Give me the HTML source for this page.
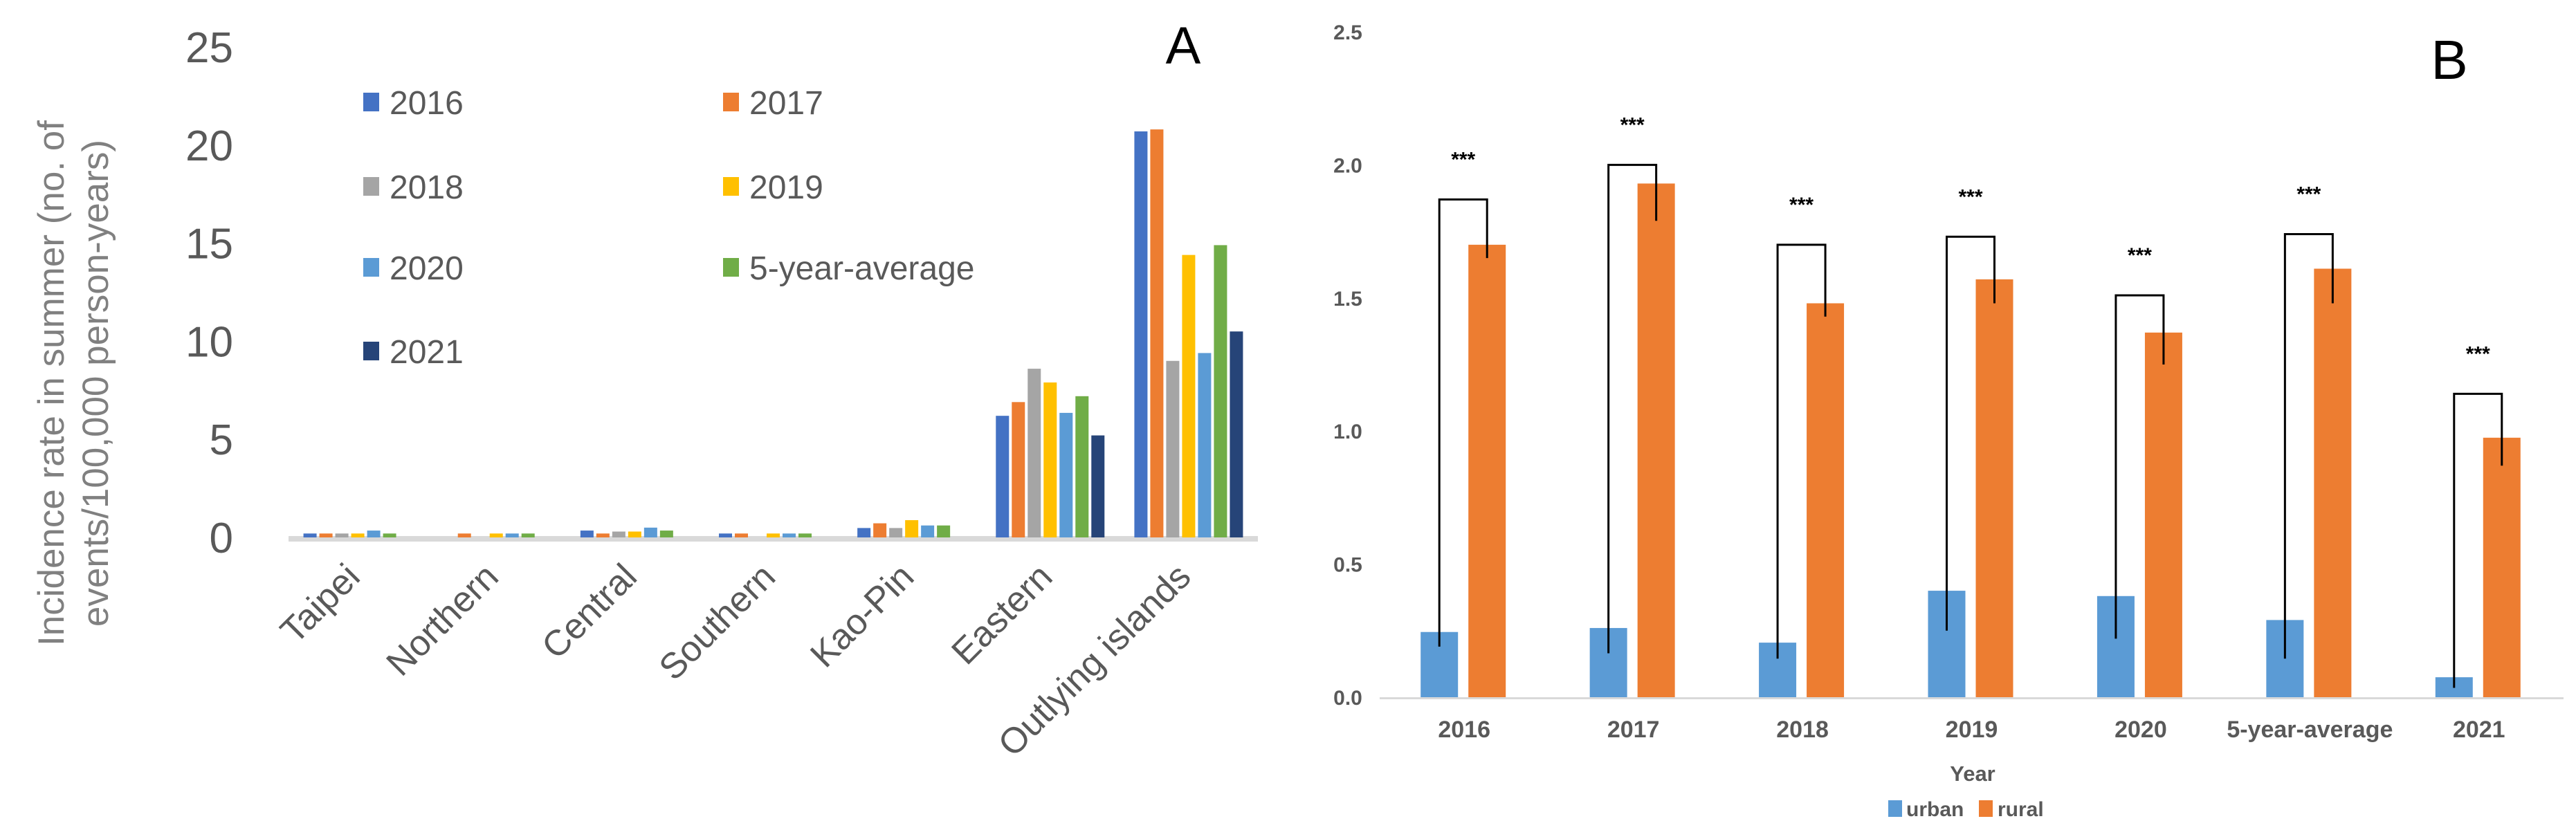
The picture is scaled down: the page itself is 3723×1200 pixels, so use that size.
<!DOCTYPE html>
<html><head><meta charset="utf-8"><style>
html,body{margin:0;padding:0;background:#fff;}
svg{display:block;font-family:"Liberation Sans",sans-serif;}
</style></head><body>
<svg id="chart" width="3723" height="1200" viewBox="0 0 3723 1200" xmlns="http://www.w3.org/2000/svg">
<g id="panelA"></g>
<g id="panelB"></g>
</svg>
<script>
// ---- Panel A data ----
const regions = ["Taipei","Northern","Central","Southern","Kao-Pin","Eastern","Outlying islands"];
const seriesA = ["2016","2017","2018","2019","2020","5-year-average","2021"];
const colorsA = ["#4472c4","#ed7d31","#a5a5a5","#ffc000","#5b9bd5","#70ad47","#264478"];
const v2016 = [0.2,0,0.35,0.2,0.48,6.2,20.7];
const v2017 = [0.2,0.2,0.2,0.2,0.72,6.9,20.8];
const v2018 = [0.2,0,0.3,0,0.48,8.6,9.0];
const v2019 = [0.2,0.2,0.3,0.2,0.88,7.9,14.4];
const v2020 = [0.35,0.2,0.5,0.2,0.61,6.35,9.4];
const vAvg = [0.2,0.2,0.35,0.2,0.61,7.2,14.9];
const v2021 = [0,0,0,0,0,5.2,10.5];
const ticksA = [0,5,10,15,20,25];
// ---- Panel B data ----
const years = ["2016","2017","2018","2019","2020","5-year-average","2021"];
const urban = [0.245,0.26,0.205,0.40,0.38,0.29,0.075];
const rural = [1.70,1.93,1.48,1.57,1.37,1.61,0.975];
const bracketTop = [1.87,2.0,1.70,1.73,1.51,1.74,1.14];
const urbanLow = [0.19,0.165,0.145,0.25,0.22,0.145,0.035];
const ruralLow = [1.65,1.79,1.43,1.48,1.25,1.48,0.87];
const sigLabels = ["***","***","***","***","***","***","***"];
const ticksB = [0.0,0.5,1.0,1.5,2.0,2.5];

const NS="http://www.w3.org/2000/svg";
function mk(parent,tag,attrs,text){const e=document.createElementNS(NS,tag);for(const k in attrs)e.setAttribute(k,attrs[k]);if(text!==undefined)e.textContent=text;parent.appendChild(e);return e;}

// ===== Panel A =====
const A=document.getElementById('panelA');
const ax0=417, ax1=1818, ay0=777, ayTop=68, aMax=25;
const yA=v=>ay0-(v/aMax)*(ay0-ayTop);
const groupW=(ax1-ax0)/regions.length;
const slot=23, barW=19;
const allA=[v2016,v2017,v2018,v2019,v2020,vAvg,v2021];
ticksA.forEach(t=>{
  const el=mk(A,'text',{x:337,y:yA(t)+22,'text-anchor':'end','font-size':62,fill:'#595959'},String(t));
  
  
});
const baseA=mk(A,'rect',{x:ax0,y:ay0-2,width:ax1-ax0,height:8,fill:'#d9d9d9'});


regions.forEach((r,i)=>{
  const cx=ax0+groupW*(i+0.5);
  allA.forEach((arr,s)=>{
    const v=arr[i]; if(v<=0) return;
    const x=cx-slot*3.5+s*slot+(slot-barW)/2;
    const b=mk(A,'rect',{x:x,y:yA(v),width:barW,height:ay0-yA(v),fill:colorsA[s]});
    
    
  });
  const lx=cx+6, ly=ay0+60;
  const t=mk(A,'text',{x:lx,y:ly,'text-anchor':'end','font-size':52,fill:'#595959',transform:'rotate(-45 '+lx+' '+ly+')'},r);
  
  
});
const legPos=[[525,148],[1045,148],[525,270],[1045,270],[525,387],[1045,387],[525,508]];
seriesA.forEach((s,i)=>{
  const g=mk(A,'g',{});
  
  
  const [lx,ly]=legPos[i];
  mk(g,'rect',{x:lx,y:ly-14,width:23,height:27,fill:colorsA[i]});
  mk(g,'text',{x:lx+38,y:ly+17,'font-size':48,fill:'#595959'},s);
});
const yt=mk(A,'text',{'font-size':53,fill:'#808080','text-anchor':'middle',transform:'translate(92 554) rotate(-90)'});


mk(yt,'tspan',{x:0,dy:0},'Incidence rate in summer (no. of');
mk(yt,'tspan',{x:0,dy:64},'events/100,000 person-years)');
const la=mk(A,'text',{x:1710,y:92,'text-anchor':'middle','font-size':76,fill:'#000'},'A');



// ===== Panel B =====
const B=document.getElementById('panelB');
const bx0=1994, bx1=3705, by0=1008, byTop=46, bMax=2.5;
const yB=v=>by0-(v/bMax)*(by0-byTop);
const gB=(bx1-bx0)/years.length;
const bw=54;
ticksB.forEach(t=>{
  const el=mk(B,'text',{x:1948,y:yB(t)+11,'text-anchor':'middle','font-size':30,'font-weight':'bold',fill:'#595959'},t.toFixed(1));
  
  
});
const baseB=mk(B,'rect',{x:bx0,y:by0,width:bx1-bx0,height:3,fill:'#d9d9d9'});


years.forEach((yv,i)=>{
  const cx=bx0+gB*(i+0.5);
  const ux=cx-63, rx=cx+6;
  const ub=mk(B,'rect',{x:ux,y:yB(urban[i]),width:bw,height:by0-yB(urban[i]),fill:'#5b9bd5'});
  
  
  const rb=mk(B,'rect',{x:rx,y:yB(rural[i]),width:bw,height:by0-yB(rural[i]),fill:'#ed7d31'});
  
  
  const uc=ux+bw/2, rc=rx+bw/2, top=yB(bracketTop[i]);
  const br=mk(B,'path',{d:'M'+uc+' '+yB(urbanLow[i])+'V'+top+'H'+rc+'V'+yB(ruralLow[i]),fill:'none',stroke:'#000','stroke-width':3});
  
  
  const st=mk(B,'text',{x:(uc+rc)/2,y:top-48,'text-anchor':'middle','font-size':30,'font-weight':'bold',fill:'#000'},sigLabels[i]);
  
  
  const xl=mk(B,'text',{x:cx,y:1066,'text-anchor':'middle','font-size':34,'font-weight':'bold',fill:'#595959'},yv);
  
  
});
const xt=mk(B,'text',{x:2851,y:1129,'text-anchor':'middle','font-size':31,'font-weight':'bold',fill:'#595959'},'Year');


const lu=mk(B,'g',{});


mk(lu,'rect',{x:2729,y:1157,width:20,height:24,fill:'#5b9bd5'});
mk(lu,'text',{x:2755,y:1180,'font-size':30,'font-weight':'bold',fill:'#595959'},'urban');
const lr=mk(B,'g',{});


mk(lr,'rect',{x:2860,y:1157,width:20,height:24,fill:'#ed7d31'});
mk(lr,'text',{x:2887,y:1180,'font-size':30,'font-weight':'bold',fill:'#595959'},'rural');
const lb=mk(B,'text',{x:3540,y:114,'text-anchor':'middle','font-size':80,fill:'#000'},'B');


</script>
</body></html>
